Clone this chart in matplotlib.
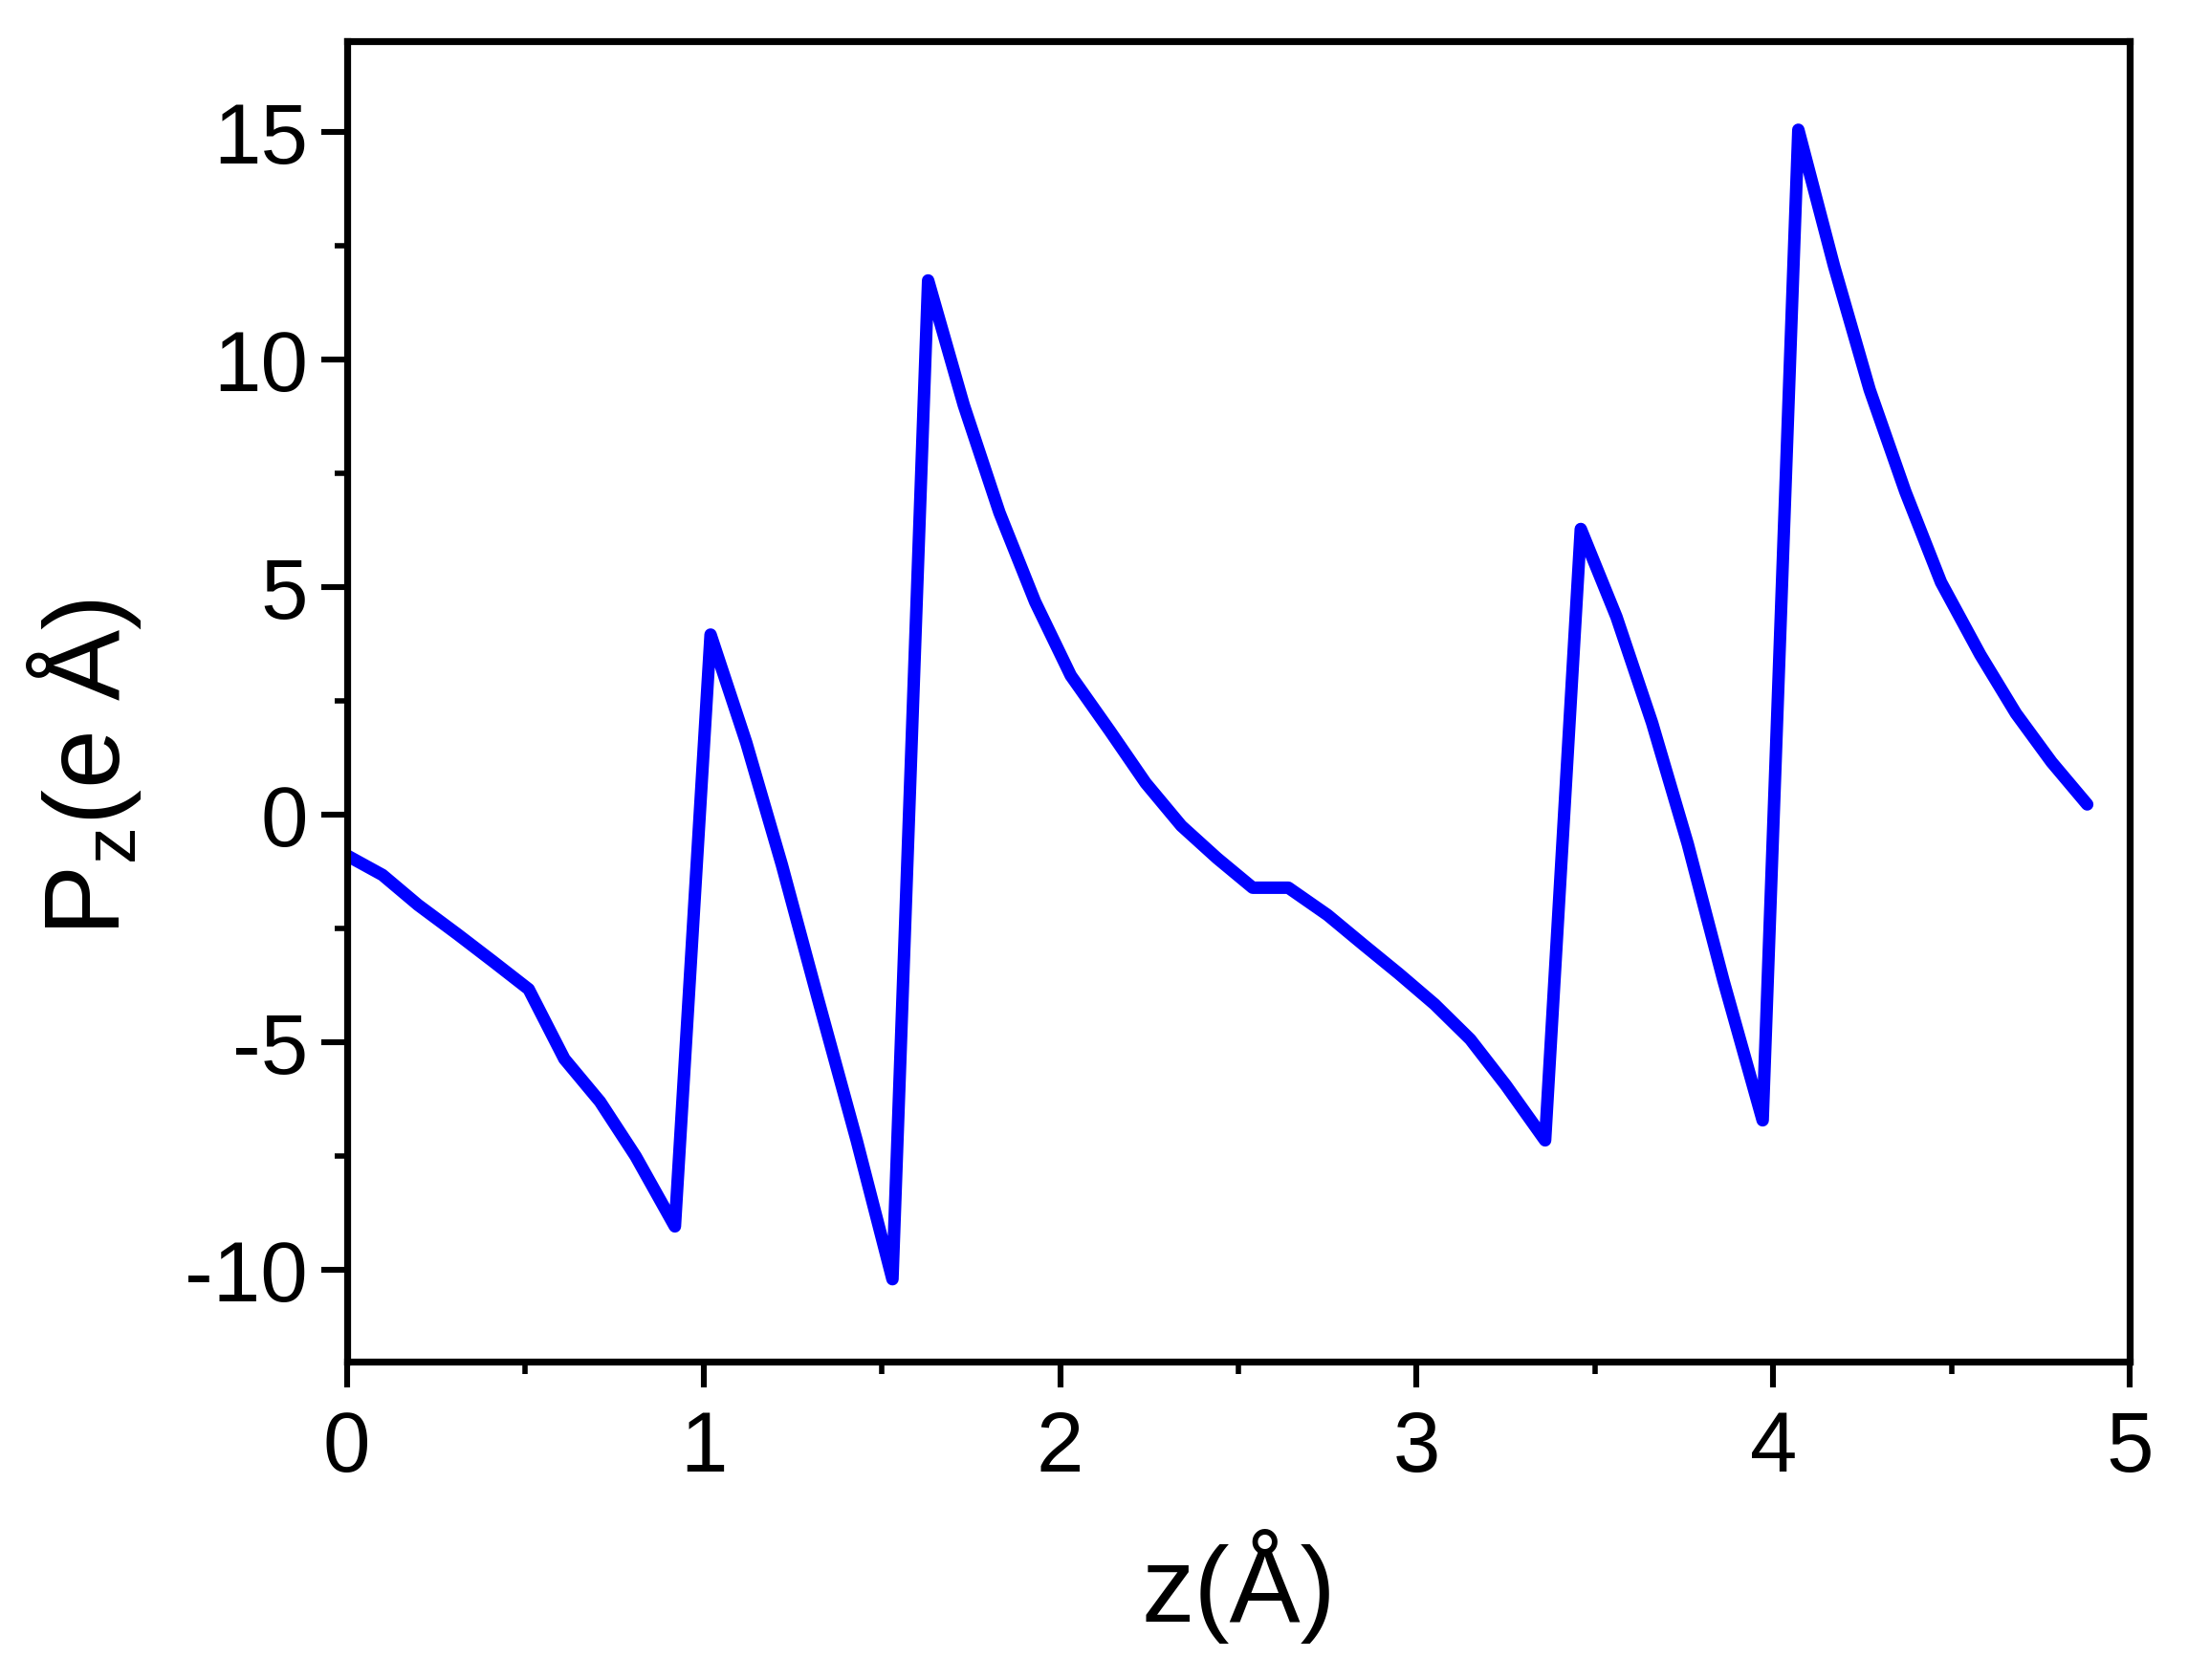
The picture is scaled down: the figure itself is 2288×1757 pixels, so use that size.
import matplotlib
matplotlib.use("Agg")
import matplotlib.pyplot as plt
from matplotlib.ticker import MultipleLocator

plt.rcParams['font.family'] = ['Liberation Sans', 'DejaVu Sans']
plt.rcParams['mathtext.fontset'] = 'custom'
plt.rcParams['mathtext.rm'] = 'Liberation Sans'
plt.rcParams['mathtext.it'] = 'Liberation Sans'

z = [0.00, 0.10, 0.20, 0.31, 0.41, 0.51, 0.61, 0.71, 0.81, 0.92,
     1.02, 1.12, 1.22, 1.32, 1.43, 1.53, 1.63, 1.73, 1.83, 1.93,
     2.03, 2.14, 2.24, 2.34, 2.44, 2.54, 2.64, 2.75, 2.85, 2.95,
     3.05, 3.15, 3.25, 3.36, 3.46, 3.56, 3.66, 3.76, 3.86, 3.97,
     4.07, 4.17, 4.27, 4.37, 4.47, 4.58, 4.68, 4.78, 4.88]
pz = [-0.89, -1.32, -1.98, -2.62, -3.22, -3.83, -5.36, -6.30, -7.50, -9.04,
      3.96, 1.59, -1.10, -4.01, -7.16, -10.20, 11.74, 9.00, 6.64, 4.68,
      3.06, 1.84, 0.70, -0.24, -0.95, -1.60, -1.60, -2.20, -2.85, -3.49,
      -4.16, -4.93, -5.94, -7.15, 6.28, 4.35, 2.02, -0.64, -3.64, -6.71,
      15.05, 12.06, 9.34, 7.10, 5.11, 3.52, 2.23, 1.16, 0.23]

xticks = [0, 1, 2, 3, 4, 5]
yticks = [-10, -5, 0, 5, 10, 15]

fig = plt.figure(figsize=(11.44, 8.785), dpi=200)
ax = fig.add_axes([0.1585, 0.1898, 0.815, 0.7858])

ax.plot(z, pz, color='#0000FF', lw=4.7, solid_joinstyle='round', solid_capstyle='round')

ax.set_xlim(0, 5)
ax.set_ylim(-12, 17)
ax.set_xticks(xticks)
ax.set_yticks(yticks)
ax.set_xticklabels([str(t) for t in xticks])
ax.set_yticklabels([str(t) for t in yticks])
ax.xaxis.set_minor_locator(MultipleLocator(0.5))
ax.yaxis.set_minor_locator(MultipleLocator(2.5))

for s in ax.spines.values():
    s.set_linewidth(2.6)

ax.tick_params(which='major', direction='out', length=9.7, width=2.2, labelsize=32)
ax.tick_params(which='minor', direction='out', length=4.7, width=2.0)
ax.tick_params(top=False, right=False, which='both')
ax.tick_params(axis='x', which='major', pad=8.5)
ax.tick_params(axis='y', which='major', pad=5)

ax.set_xlabel('z(Å)', fontsize=40)
ax.xaxis.set_label_coords(0.5, -0.127)
ax.set_ylabel(r'P$_{\mathrm{z}}$(e Å)', fontsize=40)
ax.yaxis.set_label_coords(-0.114, 0.45)

fig.savefig('out.png', dpi=200)
